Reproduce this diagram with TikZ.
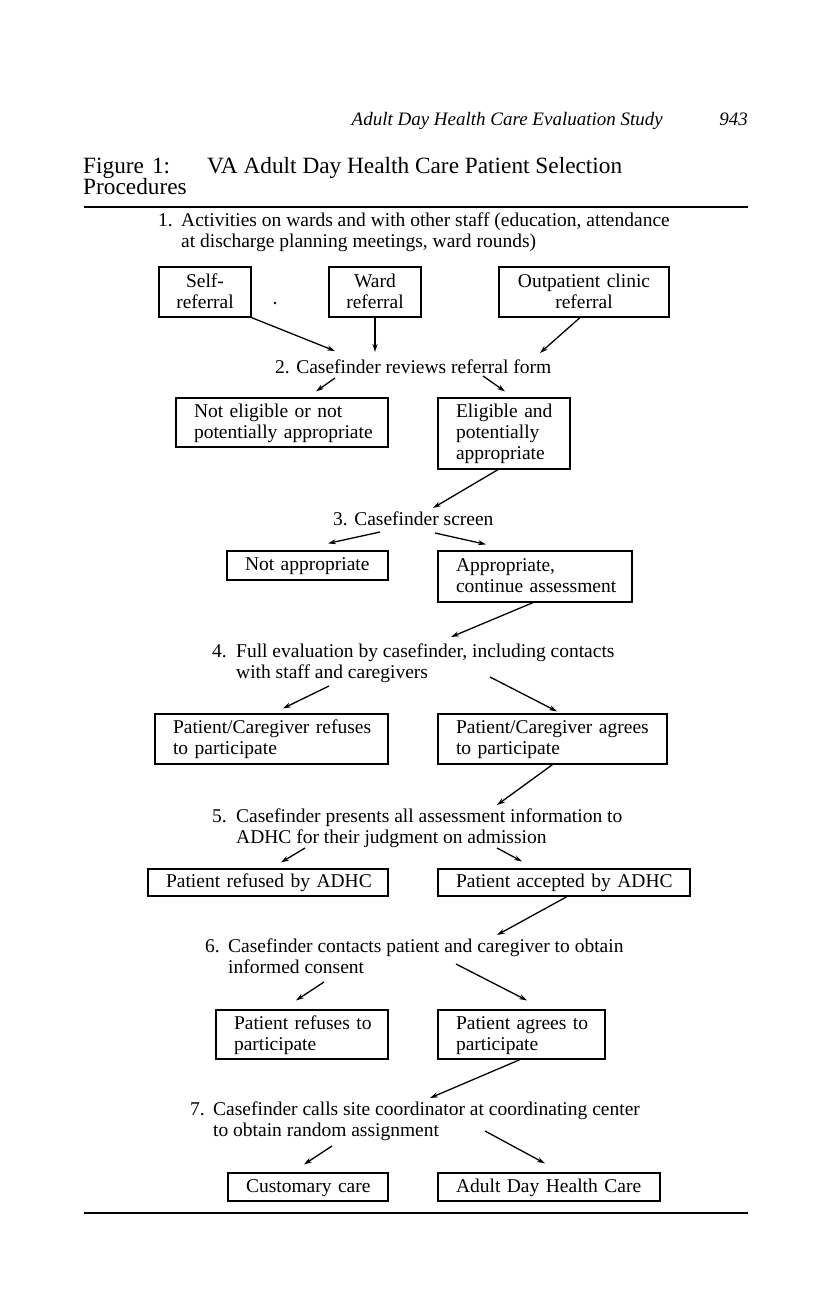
\documentclass[tikz,border=0pt]{standalone}
\usepackage{fontspec}
\setmainfont{Liberation Serif}
\usetikzlibrary{arrows.meta}
\newcommand\mybody{\fontsize{19.5}{21}\selectfont}
\newcommand\oneline[1]{\mbox{\rule[-4pt]{0pt}{19pt}#1}}
\begin{document}
\begin{tikzpicture}[x=1pt,y=-1pt,
  box/.style={draw, line width=1.2pt, inner xsep=18pt, inner ysep=0pt, align=left, font=\mybody},
  cbox/.style={box, inner xsep=4pt, align=center},
  lab/.style={inner sep=0pt, font=\mybody, anchor=base west},
  arr/.style={-{Stealth[length=8pt,width=5pt]}, line width=1.3pt},
  rulel/.style={line width=1.5pt}]
\useasboundingbox (0,0) rectangle (816,1303);

% header and title
\node[anchor=base east, inner sep=0pt, font=\fontsize{19}{21}\selectfont\itshape] (h1) at (663,125) {Adult Day Health Care Evaluation Study};
\node[anchor=base east, inner sep=0pt, font=\fontsize{19}{21}\selectfont\itshape] (h2) at (748,125) {943};
\node[anchor=base west, inner sep=0pt, font=\fontsize{23.3}{21}\selectfont] (t1) at (83,173) {Figure\hspace{8pt}1:\hspace{37pt}VA Adult Day Health Care Patient Selection};
\node[anchor=base west, inner sep=0pt, font=\fontsize{23.3}{21}\selectfont] (t2) at (83,194) {Procedures};
\draw[rulel] (84,207) -- (748,207);
\draw[rulel] (84,1213) -- (748,1213);

% step 1
\node[lab] (s1) at (158,226) {\begin{tabular}[t]{@{}p{23pt}@{}l@{}}1.&Activities on wards and with other staff (education, attendance\\&at discharge planning meetings, ward rounds)\end{tabular}};

\node[cbox, text width=84pt, minimum height=50pt] (self) at (205,292) {\oneline{Self-}\\\oneline{referral}};
\node[cbox, text width=84pt, minimum height=50pt] (ward) at (375,292) {\oneline{Ward}\\\oneline{referral}};
\node[cbox, text width=162pt, minimum height=50pt] (outp) at (584,292) {\oneline{Outpatient clinic}\\\oneline{referral}};
\fill (275,303) circle (1.4pt);

% step 2
\node[lab] (s2) at (275,373) {2. Casefinder reviews referral form};
\draw[arr] (self.south east) -- ([shift={(60,-22)}]s2.base west);
\draw[arr] (ward.south) -- ([shift={(100,-21)}]s2.base west);
\draw[arr] ([xshift=-4pt]outp.south) -- ([shift={(265,-20)}]s2.base west);

\node[box, text width=176pt, minimum height=49pt] (ne) at (282,422.5) {\oneline{Not eligible or not}\\\oneline{potentially appropriate}};
\node[box, text width=96pt, minimum height=71pt] (el) at (504,433.5) {\oneline{Eligible and}\\\oneline{potentially}\\\oneline{appropriate}};
\draw[arr] ([shift={(60,5)}]s2.base west) -- ([shift={(34,-6)}]ne.north);
\draw[arr] ([shift={(208,3)}]s2.base west) -- ([shift={(1,-6)}]el.north);

% step 3
\node[lab] (s3) at (333,525) {3. Casefinder screen};
\draw[arr] ([xshift=-6pt]el.south) -- ([shift={(100,-17)}]s3.base west);
\node[box, text width=125pt, minimum height=29pt] (na) at (307.5,565.5) {\oneline{Not appropriate}};
\node[box, text width=158pt, minimum height=51pt] (ap) at (535,576.5) {\oneline{Appropriate,}\\\oneline{continue assessment}};
\draw[arr] ([shift={(47,7)}]s3.base west) -- ([shift={(20.5,-7)}]na.north);
\draw[arr] ([shift={(102,8)}]s3.base west) -- ([shift={(-49,-6)}]ap.north);

% step 4
\node[lab] (s4) at (212,657) {\begin{tabular}[t]{@{}p{24pt}@{}l@{}}4.&Full evaluation by casefinder, including contacts\\&with staff and caregivers\end{tabular}};
\draw[arr] ([xshift=-2pt]ap.south) -- ([shift={(239,-20)}]s4.base west);
\node[box, text width=197pt, minimum height=50pt] (pcr) at (271.5,739) {\oneline{Patient/Caregiver refuses}\\\oneline{to participate}};
\node[box, text width=193pt, minimum height=50pt] (pca) at (552.5,739) {\oneline{Patient/Caregiver agrees}\\\oneline{to participate}};
\draw[arr] ([shift={(117,29)}]s4.base west) -- ([shift={(11.5,-5)}]pcr.north);
\draw[arr] ([shift={(278,20)}]s4.base west) -- ([shift={(4.5,-2)}]pca.north);

% step 5
\node[lab] (s5) at (212,822) {\begin{tabular}[t]{@{}p{24pt}@{}l@{}}5.&Casefinder presents all assessment information to\\&ADHC for their judgment on admission\end{tabular}};
\draw[arr] (pca.south) -- ([shift={(285,-17)}]s5.base west);
\node[box, text width=204pt, minimum height=27pt] (rf) at (268,882.5) {\oneline{Patient refused by ADHC}};
\node[box, text width=216pt, minimum height=27pt] (ac) at (564,882.5) {\oneline{Patient accepted by ADHC}};
\draw[arr] ([shift={(93,26)}]s5.base west) -- ([shift={(13,-6)}]rf.north);
\draw[arr] ([shift={(285,26)}]s5.base west) -- ([shift={(-42,-7)}]ac.north);

% step 6
\node[lab] (s6) at (205,952) {\begin{tabular}[t]{@{}p{23pt}@{}l@{}}6.&Casefinder contacts patient and caregiver to obtain\\&informed consent\end{tabular}};
\draw[arr] ([xshift=3pt]ac.south) -- ([shift={(292,-17)}]s6.base west);
\node[box, text width=136pt, minimum height=49pt] (pr) at (302,1034.5) {\oneline{Patient refuses to}\\\oneline{participate}};
\node[box, text width=131pt, minimum height=49pt] (pa) at (521.5,1034.5) {\oneline{Patient agrees to}\\\oneline{participate}};
\draw[arr] ([shift={(119,30)}]s6.base west) -- ([shift={(-6,-9)}]pr.north);
\draw[arr] ([shift={(251,12)}]s6.base west) -- ([shift={(5.5,-9)}]pa.north);

% step 7
\node[lab] (s7) at (190,1115) {\begin{tabular}[t]{@{}p{23pt}@{}l@{}}7.&Casefinder calls site coordinator at coordinating center\\&to obtain random assignment\end{tabular}};
\draw[arr] ([xshift=-1.5pt]pa.south) -- ([shift={(240,-17)}]s7.base west);
\node[box, text width=124pt, minimum height=28pt] (cc) at (308,1187) {\oneline{Customary care}};
\node[box, text width=186pt, minimum height=28pt] (ad) at (549,1187) {\oneline{Adult Day Health Care}};
\draw[arr] ([shift={(142,31)}]s7.base west) -- ([shift={(-4,-8)}]cc.north);
\draw[arr] ([shift={(295,16)}]s7.base west) -- ([shift={(-4,-9)}]ad.north);
\end{tikzpicture}
\end{document}
